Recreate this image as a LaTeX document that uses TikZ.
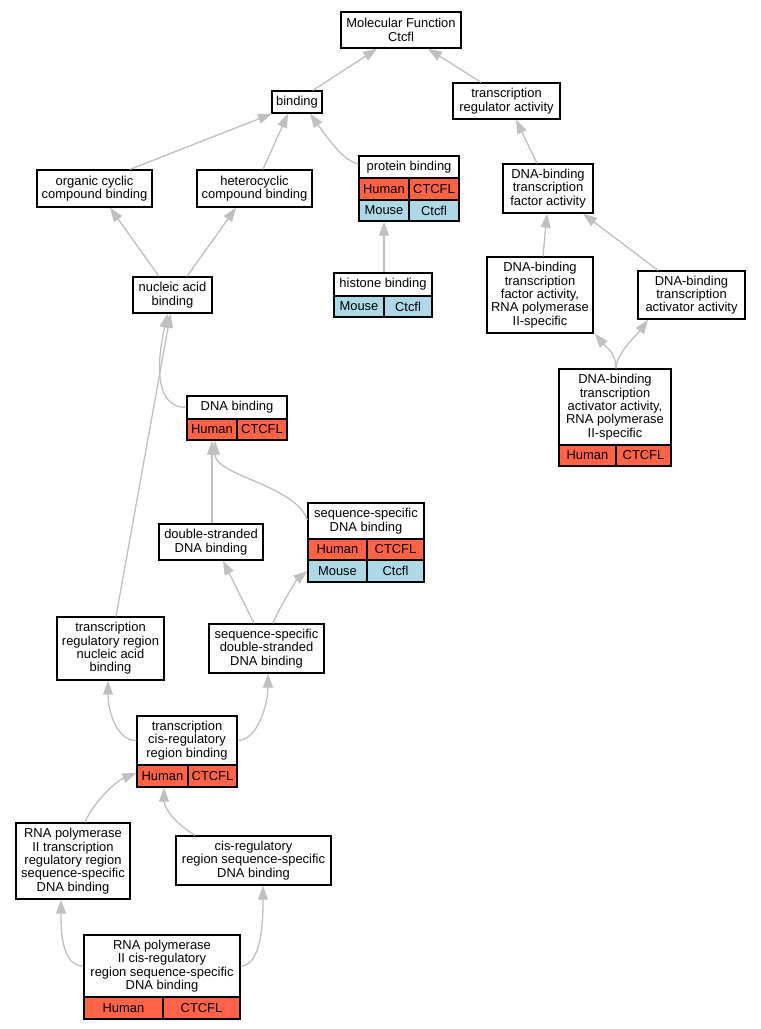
\documentclass[tikz,border=0pt]{standalone}
\usepackage{fontspec}
\setmainfont{Liberation Sans}
\usetikzlibrary{arrows.meta}
\definecolor{human}{HTML}{FF6347}
\definecolor{mouse}{HTML}{ADD8E6}
\definecolor{edgegray}{HTML}{C0C0C0}
\tikzset{
  gobox/.style={draw, line width=1pt, fill=white, inner sep=0pt, align=center,
    font=\fontsize{9.7}{10}\selectfont},
  sz/.style 2 args={minimum width=#1*0.75pt, minimum height=#2*0.75pt},
  hcell/.style={gobox, fill=human},
  mcell/.style={gobox, fill=mouse},
  isa/.style={draw=edgegray, line width=1pt, -{Triangle[length=10.5pt,width=7.5pt]}},
}
\begin{document}
\begin{tikzpicture}[x=0.75pt,y=-0.75pt]
    \useasboundingbox (0,0) rectangle (761,1029);
    % top
    \node[gobox, sz={120}{36}] (mf) at (401,30) {Molecular Function\\Ctcfl};
    \node[gobox, sz={107}{36}] (tra) at (506.5,101) {transcription\\regulator activity};
    \node[gobox, sz={50}{22}] (bind) at (297,102) {binding};
    \node[gobox, sz={100}{22}] (pb) at (409,167) {protein binding};
    \node[hcell, sz={50}{22}] (pbh1) at (384,189) {Human};
    \node[hcell, sz={50}{22}] (pbh2) at (434,189) {CTCFL};
    \node[mcell, sz={50}{21}] (pbm1) at (384,210.5) {Mouse};
    \node[mcell, sz={50}{21}] (pbm2) at (434,210.5) {Ctcfl};
    \node[gobox, sz={98}{23}] (hb) at (383,284.5) {histone binding};
    \node[mcell, sz={50}{21}] (hbm1) at (359,306.5) {Mouse};
    \node[mcell, sz={48}{21}] (hbm2) at (408,306.5) {Ctcfl};
    \node[gobox, sz={115}{37}] (occ) at (94.5,188.5) {organic cyclic\\compound binding};
    \node[gobox, sz={115}{37}] (hcc) at (254.5,188.5) {heterocyclic\\compound binding};
    \node[gobox, sz={79}{36}] (nab) at (172.5,295) {nucleic acid\\binding};
    % transcription factor branch
    \node[gobox, sz={90}{49}] (tfa) at (548,188.5) {DNA-binding\\transcription\\factor activity};
    \node[gobox, sz={106}{76}] (tfp) at (540,295) {DNA-binding\\transcription\\factor activity,\\RNA polymerase\\II-specific};
    \node[gobox, sz={107}{48}] (aa) at (691.5,295) {DNA-binding\\transcription\\activator activity};
    \node[gobox, sz={112}{76}] (aap) at (615,407) {DNA-binding\\transcription\\activator activity,\\RNA polymerase\\II-specific};
    \node[hcell, sz={57}{21}] (aaph1) at (587.5,455.5) {Human};
    \node[hcell, sz={55}{21}] (aaph2) at (643.5,455.5) {CTCFL};
    % DNA binding
    \node[gobox, sz={100}{23}] (db) at (237,407.5) {DNA binding};
    \node[hcell, sz={50}{21}] (dbh1) at (212,429.5) {Human};
    \node[hcell, sz={50}{21}] (dbh2) at (262,429.5) {CTCFL};
    \node[gobox, sz={104}{36}] (dsdb) at (211,542) {double-stranded\\DNA binding};
    \node[gobox, sz={116}{36}] (ssdb) at (366,521) {sequence-specific\\DNA binding};
    \node[hcell, sz={59}{21}] (ssdbh1) at (337.5,549.5) {Human};
    \node[hcell, sz={57}{21}] (ssdbh2) at (395.5,549.5) {CTCFL};
    \node[mcell, sz={59}{22}] (ssdbm1) at (337.5,571) {Mouse};
    \node[mcell, sz={57}{22}] (ssdbm2) at (395.5,571) {Ctcfl};
    \node[gobox, sz={107}{63}] (trr) at (110.5,648.5) {transcription\\regulatory region\\nucleic acid\\binding};
    \node[gobox, sz={115}{49}] (ssds) at (266.5,648.5) {sequence-specific\\double-stranded\\DNA binding};
    % bottom
    \node[gobox, sz={100}{49}] (tcr) at (187,740.5) {transcription\\cis-regulatory\\region binding};
    \node[hcell, sz={51}{22}] (tcrh1) at (162.5,776) {Human};
    \node[hcell, sz={49}{22}] (tcrh2) at (212.5,776) {CTCFL};
    \node[gobox, sz={114}{76}] (p2tr) at (73,861) {RNA polymerase\\II transcription\\regulatory region\\sequence-specific\\DNA binding};
    \node[gobox, sz={155}{49}] (crss) at (253.5,860.5) {cis-regulatory\\region sequence-specific\\DNA binding};
    \node[gobox, sz={156}{62}] (p2cr) at (162,966) {RNA polymerase\\II cis-regulatory\\region sequence-specific\\DNA binding};
    \node[hcell, sz={79}{22}] (p2crh1) at (123.5,1008) {Human};
    \node[hcell, sz={77}{22}] (p2crh2) at (201.5,1008) {CTCFL};

    % straight is_a edges
    \foreach \a/\dx/\b/\ex in {bind/16/mf/-24, tra/-25.5/mf/27, occ/35.5/bind/-25,
        hcc/8.5/bind/-9, nab/-13.5/occ/15.5, nab/14.5/hcc/-18.5, hb/1/pbm1/0,
        tfa/-11/tra/9.5, tfp/3/tfa/-1, aa/-33.5/tfa/35, trr/5.5/nab/-2,
        dsdb/1/dbh1/0, ssds/-12.5/dsdb/12}
        \draw[isa] ([shift={(\dx,0)}]\a.north) -- ([shift={(\ex,0)}]\b.south);
    % curved is_a edges
    \draw[isa] ([shift={(0,-3)}]pb.west) .. controls +(-14,-3) and +(20,28) .. ([shift={(13,0)}]bind.south);
    \draw[isa] ([shift={(1,0)}]aap.north) .. controls +(0,-15) and +(12,14) .. ([shift={(1,0)}]tfp.south east);
    \draw[isa] ([shift={(1,0)}]aap.north) .. controls +(0,-15) and +(-10,14) .. ([shift={(-43.5,0)}]aa.south);
    \draw[isa] (db.west) .. controls +(-30,0) and +(-12,55) .. ([shift={(-5,0)}]nab.south);
    \draw[isa] ([shift={(0,-1)}]ssdb.west) .. controls +(-12,-35) and +(0,35) .. ([shift={(3,0)}]dbh1.south);
    \draw[isa] ([shift={(6.5,0)}]ssds.north) .. controls +(4,-12) and +(-10,8) .. (ssdbm1.west);
    \draw[isa] (tcr.west) .. controls +(-20,0) and +(0,30) .. ([shift={(-2.5,0)}]trr.south);
    \draw[isa] (tcr.east) .. controls +(20,0) and +(0,30) .. ([shift={(1.5,0)}]ssds.south);
    \draw[isa] ([shift={(12,0)}]p2tr.north) .. controls +(8,-20) and +(-20,8) .. ([shift={(0,-3)}]tcrh1.west);
    \draw[isa] ([shift={(-58.5,0)}]crss.north) .. controls +(-20,-12) and +(0,20) .. ([shift={(1.5,0)}]tcrh1.south);
    \draw[isa] (p2cr.west) .. controls +(-22,0) and +(0,30) .. ([shift={(-12,0)}]p2tr.south);
    \draw[isa] (p2cr.east) .. controls +(22,0) and +(0,30) .. ([shift={(9.5,0)}]crss.south);
\end{tikzpicture}
\end{document}
